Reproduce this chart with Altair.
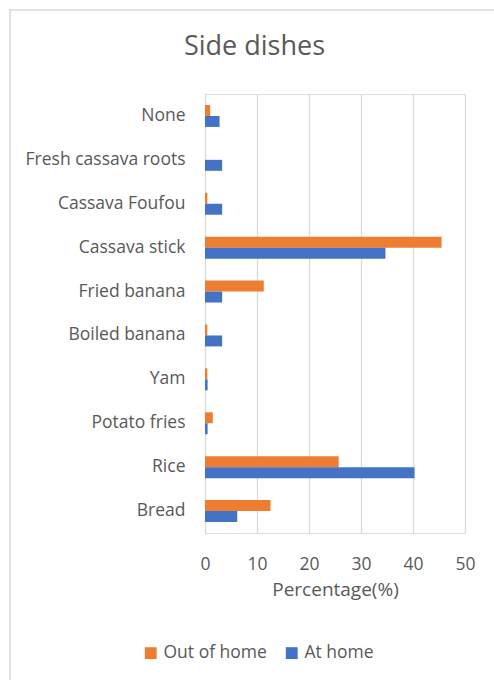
import altair as alt
import pandas as pd

categories = ["None", "Fresh cassava roots", "Cassava Foufou", "Cassava stick",
              "Fried banana", "Boiled banana", "Yam", "Potato fries", "Rice", "Bread"]
out_of_home = [1.0, 0.0, 0.45, 45.5, 11.3, 0.45, 0.45, 1.5, 25.7, 12.6]
at_home = [2.8, 3.3, 3.3, 34.7, 3.3, 3.3, 0.5, 0.5, 40.3, 6.2]
series = ["Out of home", "At home"]
colors = ["#ED7D31", "#4472C4"]
x_ticks = [0, 10, 20, 30, 40, 50]
chart_title = "Side dishes"

rows = []
for c, o, h in zip(categories, out_of_home, at_home):
    rows.append({"cat": c, "series": series[0], "val": o})
    rows.append({"cat": c, "series": series[1], "val": h})
df = pd.DataFrame(rows)

FONT = "Open Sans"
TXT = "#595959"

bars = alt.Chart(df).mark_bar().encode(
    y=alt.Y("cat:N", sort=categories,
            scale=alt.Scale(paddingInner=0.5, paddingOuter=0.25),
            axis=alt.Axis(title=None, domain=False, ticks=False, grid=False,
                          labelPadding=20, labelFontSize=17.5, labelColor=TXT,
                          labelFont=FONT)),
    yOffset=alt.YOffset("series:N", sort=series),
    x=alt.X("val:Q", scale=alt.Scale(domain=[0, 50], nice=False),
            axis=alt.Axis(values=x_ticks, title="Percentage(%)", domain=False,
                          ticks=False, grid=True, gridColor="#D9D9D9",
                          gridWidth=1.3, labelPadding=22, labelFontSize=17.5,
                          labelFlush=False,
                          labelColor=TXT, labelFont=FONT, titleFont=FONT,
                          titleFontSize=19, titleColor=TXT, titleFontWeight="normal",
                          titlePadding=8)),
    color=alt.Color("series:N", sort=series,
                    scale=alt.Scale(domain=series, range=colors),
                    legend=alt.Legend(title=None, orient="none", direction="horizontal",
                                      legendX=-63, legendY=550, symbolType="square",
                                      symbolSize=140, symbolStrokeWidth=0,
                                      labelFontSize=17.5, labelColor=TXT, labelFont=FONT,
                                      columnPadding=16, labelOffset=4)),
)

border = alt.Chart(alt.Data(values=[{}])).mark_rect(
    fill=None, stroke="#D9D9D9", strokeWidth=1.5
).encode(x=alt.value(-195), x2=alt.value(300), y=alt.value(-84), y2=alt.value(600))

title_mark = alt.Chart(alt.Data(values=[{"t": chart_title}])).mark_text(
    font=FONT, fontSize=27, color=TXT, align="center", baseline="middle"
).encode(text="t:N", x=alt.value(49.5), y=alt.value(-47))

chart = alt.layer(border, bars, title_mark).properties(
    width=260, height=439,
    autosize=alt.AutoSizeParams(type="none"),
    padding={"left": 205, "top": 94, "right": 29, "bottom": 147},
).configure_view(stroke=None).configure(background="white")

chart.save("out.html", embed_options={"renderer": "svg", "actions": False})
